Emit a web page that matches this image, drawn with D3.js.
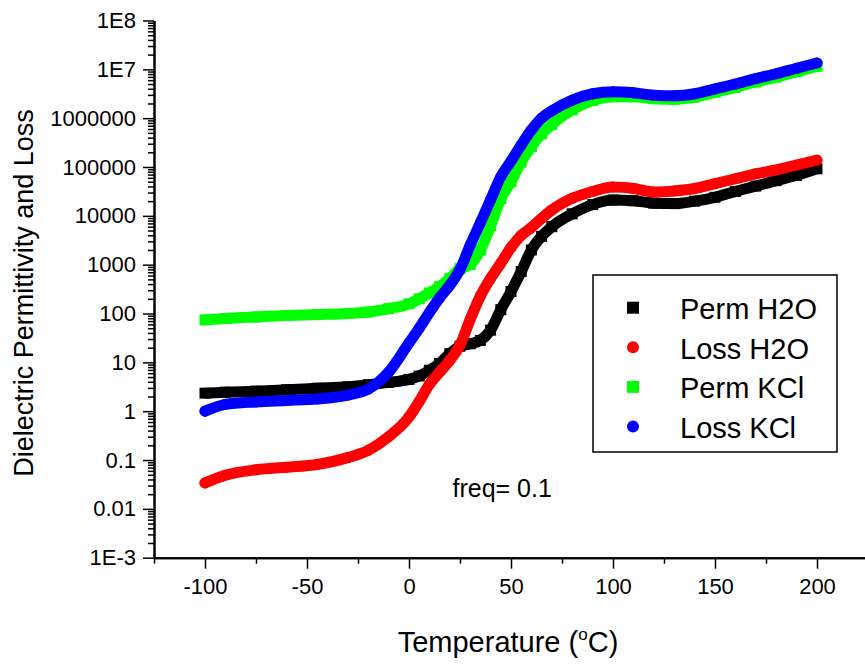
<!DOCTYPE html>
<html>
<head>
<meta charset="utf-8">
<script src="https://cdn.jsdelivr.net/npm/d3@7"></script>
<style>
  body { margin: 0; background: #fff; }
  svg { display: block; }
  text { font-family: "Liberation Sans", Arial, sans-serif; fill: #000; }
</style>
</head>
<body>
<svg id="chart" width="865" height="666"></svg>
<script>
// values (temperature in C)
const temps = [-100, -90, -75, -60, -45, -30, -20, -10, 0, 5, 10, 15, 20, 25, 30, 35, 40, 45, 50, 55, 60, 65, 70, 80, 90, 100, 110, 120, 130, 140, 150, 160, 170, 180, 190, 200];

const permH2O = [2.34, 2.45, 2.57, 2.75, 2.95, 3.16, 3.47, 3.89, 4.47, 5.25, 6.9, 9.5, 15.1, 21.4, 24, 28.2, 45.7, 120, 282, 724, 2000, 3800, 6000, 11000, 17000, 21000, 20400, 18200, 17800, 20000, 24000, 31600, 40700, 52500, 67600, 92000];
const lossH2O = [0.034, 0.049, 0.063, 0.071, 0.081, 0.112, 0.158, 0.30, 0.76, 1.58, 3.55, 6.3, 11, 22.4, 76, 229, 525, 1070, 2240, 3980, 5750, 8900, 13200, 22900, 31600, 38900, 36300, 30900, 32400, 36300, 45700, 57500, 72400, 87100, 110000, 138000];
const permKCl = [74, 79, 85, 91, 95, 100, 107, 126, 158, 200, 263, 355, 525, 830, 1000, 2000, 6300, 22400, 50000, 126000, 263000, 479000, 741000, 1480000, 2290000, 2750000, 2750000, 2510000, 2450000, 2690000, 3390000, 4270000, 5500000, 6900000, 8900000, 11500000];
const lossKCl = [1.0, 1.38, 1.55, 1.66, 1.78, 2.14, 2.82, 6.3, 25, 50, 105, 209, 380, 794, 2510, 7240, 21400, 63100, 132000, 282000, 575000, 1000000, 1410000, 2340000, 3160000, 3470000, 3310000, 2950000, 2880000, 3160000, 3980000, 5000000, 6460000, 8130000, 10500000, 13500000];

const seriesNames = ["Perm H2O", "Loss H2O", "Perm KCl", "Loss KCl"];

const xTicks = [-100, -50, 0, 50, 100, 150, 200];
const xTickLabels = ["-100", "-50", "0", "50", "100", "150", "200"];
const xMinorTicks = [-125, -75, -25, 25, 75, 125, 175, 225];
const yTicks = [1e-3, 1e-2, 1e-1, 1, 10, 100, 1000, 1e4, 1e5, 1e6, 1e7, 1e8];
const yTickLabels = ["1E-3", "0.01", "0.1", "1", "10", "100", "1000", "10000", "100000", "1000000", "1E7", "1E8"];

const svg = d3.select("#chart");

const x = d3.scaleLinear().domain([-125, 225]).range([154, 868]);
const y = d3.scaleLog().domain([1e-3, 1e8]).range([557.7, 20.5]);

// log minor ticks 2..9 in every decade
const yMinorTicks = [];
for (let e = -3; e < 8; e++) {
  for (let m = 2; m <= 9; m++) yMinorTicks.push(m * Math.pow(10, e));
}

const series = [
  {name: seriesNames[0], values: permH2O, color: "#000000", shape: "square"},
  {name: seriesNames[1], values: lossH2O, color: "#ff0000", shape: "circle"},
  {name: seriesNames[2], values: permKCl, color: "#00ff00", shape: "square"},
  {name: seriesNames[3], values: lossKCl, color: "#0000ff", shape: "circle"}
];

const line = d3.line()
  .x(d => x(d.t))
  .y(d => y(d.v))
  .curve(d3.curveMonotoneX);

const plot = svg.append("g");

series.forEach(s => {
  const pts = temps.map((t, i) => ({t: t, v: s.values[i]}));

  plot.append("path")
    .datum(pts)
    .attr("d", line)
    .attr("fill", "none")
    .attr("stroke", s.color)
    .attr("stroke-width", 11)
    .attr("stroke-linejoin", "round")
    .attr("stroke-linecap", s.shape === "circle" ? "round" : "butt");

  const sym = d3.symbol()
    .type(s.shape === "circle" ? d3.symbolCircle : d3.symbolSquare)
    .size(s.shape === "circle" ? 95 : 121);

  plot.selectAll(null)
    .data(pts)
    .enter()
    .append("path")
    .attr("transform", d => "translate(" + x(d.t) + "," + y(d.v) + ")")
    .attr("d", sym)
    .attr("fill", s.color);
});

// axes
svg.append("g")
  .attr("transform", "translate(0,557.7)")
  .call(d3.axisBottom(x).tickValues(xTicks).tickSize(11).tickSizeOuter(0).tickPadding(10)
    .tickFormat((d, i) => xTickLabels[i]));

svg.append("g")
  .attr("transform", "translate(0,557.7)")
  .call(d3.axisBottom(x).tickValues(xMinorTicks).tickSize(6).tickSizeOuter(0).tickFormat(""));

svg.append("g")
  .attr("transform", "translate(154,0)")
  .call(d3.axisLeft(y).tickValues(yTicks).tickSize(11).tickSizeOuter(0).tickPadding(7)
    .tickFormat((d, i) => yTickLabels[i]));

svg.append("g")
  .attr("transform", "translate(154,0)")
  .call(d3.axisLeft(y).tickValues(yMinorTicks).tickSize(6).tickSizeOuter(0).tickFormat(""));

svg.selectAll(".domain").attr("stroke", "#000").attr("stroke-width", 2);
svg.selectAll(".tick line").attr("stroke", "#000").attr("stroke-width", 1.5);
svg.selectAll(".tick text").attr("font-size", 22).attr("font-family", "'Liberation Sans', Arial, sans-serif");

// axis titles
const xTitle = svg.append("text")
  .attr("x", 508)
  .attr("y", 652)
  .attr("text-anchor", "middle")
  .attr("font-size", 29);
xTitle.append("tspan").text("Temperature (");
xTitle.append("tspan").attr("font-size", 17).attr("dy", -12).text("o");
xTitle.append("tspan").attr("dy", 12).text("C)");

svg.append("text")
  .attr("transform", "translate(33,293) rotate(-90)")
  .attr("text-anchor", "middle")
  .attr("font-size", 27)
  .text("Dielectric Permittivity and Loss");

svg.append("text")
  .attr("x", 452.5)
  .attr("y", 496.7)
  .attr("font-size", 25)
  .text("freq= 0.1");

// legend
const legend = svg.append("g");
legend.append("rect")
  .attr("x", 593)
  .attr("y", 275)
  .attr("width", 244)
  .attr("height", 177)
  .attr("fill", "#fff")
  .attr("stroke", "#000")
  .attr("stroke-width", 1.5);

series.forEach((s, i) => {
  const cy = 307.7 + i * 39.6;
  legend.append("path")
    .attr("transform", "translate(633," + cy + ")")
    .attr("d", d3.symbol().type(s.shape === "circle" ? d3.symbolCircle : d3.symbolSquare)
      .size(s.shape === "circle" ? 113 : 144))
    .attr("fill", s.color);
  legend.append("text")
    .attr("x", 680)
    .attr("y", cy + 11.5)
    .attr("font-size", 29)
    .text(s.name);
});
</script>
</body>
</html>
